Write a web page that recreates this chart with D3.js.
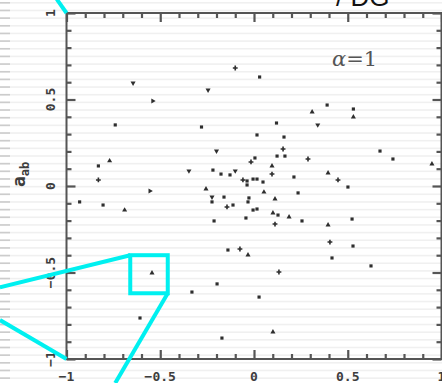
<!DOCTYPE html>
<html>
<head>
<meta charset="utf-8">
<script src="https://cdn.jsdelivr.net/npm/d3@7"></script>
<style>
  html, body { margin: 0; padding: 0; background: #fff; }
  svg { display: block; }
</style>
</head>
<body>
<svg id="chart" width="442" height="383"></svg>
<script>
// Scatter of the sample points, alpha = 1 panel
const xs = [-0.645,-0.74,-0.54,-0.10,0.03,-0.245,-0.28,0.12,0.31,0.39,0.53,0.53,0.34,
  -0.83,-0.77,-0.83,-0.93,-0.805,-0.69,-0.555,
  0.016,0.16,0.155,0.123,0.165,-0.20,0.005,-0.016,0.096,-0.347,-0.219,-0.176,-0.128,-0.10,
  0.096,0.213,-0.059,-0.037,-0.005,0.016,-0.037,0.048,-0.256,0.053,0.235,-0.224,-0.16,
  -0.027,0.112,-0.224,-0.032,-0.144,-0.112,-0.005,0.016,0.101,0.128,0.187,-0.043,-0.213,
  0.112,-0.139,-0.075,-0.032,
  0.672,0.741,0.288,0.949,0.395,0.448,0.501,0.256,0.395,0.523,0.405,0.528,0.416,
  -0.544,-0.331,-0.197,0.027,0.133,0.101,-0.171,-0.608,0.624];
const ys = [0.595,0.353,0.491,0.682,0.63,0.555,0.341,0.364,0.428,0.468,0.445,0.399,0.353,
  0.116,0.145,0.035,-0.092,-0.11,-0.139,-0.029,
  0.295,0.283,0.214,0.173,0.173,0.202,0.162,0.139,0.116,0.087,0.092,0.069,0.064,0.087,
  0.069,0.052,0.035,0.029,0.04,0.04,0.006,0.023,-0.017,-0.035,-0.04,-0.064,-0.064,
  -0.069,-0.075,-0.092,-0.092,-0.121,-0.11,-0.139,-0.133,-0.156,-0.168,-0.179,-0.185,-0.202,
  -0.22,-0.37,-0.364,-0.399,
  0.202,0.156,0.156,0.127,0.075,0.035,-0.006,-0.202,-0.225,-0.191,-0.324,-0.347,-0.416,
  -0.503,-0.613,-0.566,-0.642,-0.497,-0.844,-0.879,-0.763,-0.462];
// marker kind per point: s = block, t = up triangle, v = down triangle, r = right triangle, p = plus
const kinds = ["v","s","r","p","s","v","s","s","t","s","s","t","v",
  "s","t","p","s","s","t","r",
  "s","s","p","s","s","v","s","p","t","v","s","s","s","v",
  "p","s","p","s","s","s","s","s","t","t","s","v","s",
  "s","t","s","s","p","s","s","s","t","s","t","s","s",
  "p","s","p","t",
  "s","s","p","t","t","p","s","s","t","s","p","s","s",
  "t","s","s","s","p","t","s","s","s"];

const majorTicks = [-1, -0.5, 0, 0.5, 1];
const minorTicks = d3.range(-10, 11).map(d => d / 10);
const xTickLabels = ["\u22121", "\u22120.5", "0", "0.5", "1"];
const yTickLabels = ["\u22121", "\u22120.5", "0", "0.5", "1"];

// magnified region and its connector lines (data units)
const zoomBox = { x0: -0.66, x1: -0.46, y0: -0.62, y1: -0.40 };
const connectors = [
  [[-1.355, -0.586], [-0.66, -0.40]],
  [[-1.355, -0.775], [-1, -1]],
  [[-0.46, -0.62], [-0.74, -1.139]],
  [[-1, 1], [-1.052, 1.08]]
];

const svg = d3.select("#chart");
const W = 442, H = 383;

const x = d3.scaleLinear().domain([-1, 1]).range([66.5, 441.5]);
const y = d3.scaleLinear().domain([-1, 1]).range([359, 13]);

// faint horizontal banding
const bands = svg.append("g");
for (let yy = 2; yy < H; yy += 7.66) {
  bands.append("rect").attr("x", 0).attr("y", yy).attr("width", W).attr("height", 1.6)
    .attr("fill", "#f0f0f0");
  bands.append("rect").attr("x", 0).attr("y", yy).attr("width", 10).attr("height", 1.6)
    .attr("fill", "#cccccc");
}

const axisColor = "#555";
const g = svg.append("g");

// frame
g.append("rect")
  .attr("x", x(-1)).attr("y", y(1))
  .attr("width", x(1) - x(-1)).attr("height", y(-1) - y(1))
  .attr("fill", "none").attr("stroke", axisColor).attr("stroke-width", 2);

function styleAxis(sel) {
  sel.select(".domain").remove();
  sel.selectAll(".tick line").attr("stroke", axisColor).attr("stroke-width", 2.2);
}
const minorOnly = minorTicks.filter(v => !majorTicks.some(m => Math.abs(m - v) < 1e-9));

// bottom / top
g.append("g").attr("transform", `translate(0,${y(-1)})`)
  .call(d3.axisBottom(x).tickValues(minorOnly).tickSize(-5).tickFormat("")).call(styleAxis);
g.append("g").attr("transform", `translate(0,${y(-1)})`)
  .call(d3.axisBottom(x).tickValues(majorTicks).tickSize(-9).tickFormat("")).call(styleAxis);
g.append("g").attr("transform", `translate(0,${y(1)})`)
  .call(d3.axisTop(x).tickValues(minorOnly).tickSize(-5).tickFormat("")).call(styleAxis);
g.append("g").attr("transform", `translate(0,${y(1)})`)
  .call(d3.axisTop(x).tickValues(majorTicks).tickSize(-9).tickFormat("")).call(styleAxis);
// left / right
g.append("g").attr("transform", `translate(${x(-1)},0)`)
  .call(d3.axisLeft(y).tickValues(minorOnly).tickSize(-5).tickFormat("")).call(styleAxis);
g.append("g").attr("transform", `translate(${x(-1)},0)`)
  .call(d3.axisLeft(y).tickValues(majorTicks).tickSize(-9).tickFormat("")).call(styleAxis);
g.append("g").attr("transform", `translate(${x(1)},0)`)
  .call(d3.axisRight(y).tickValues(minorOnly).tickSize(-5).tickFormat("")).call(styleAxis);
g.append("g").attr("transform", `translate(${x(1)},0)`)
  .call(d3.axisRight(y).tickValues(majorTicks).tickSize(-9).tickFormat("")).call(styleAxis);

// tick labels
const labelFont = "'DejaVu Sans Mono', monospace";
g.append("g").selectAll("text").data(majorTicks).join("text")
  .attr("x", d => x(d)).attr("y", 381)
  .attr("text-anchor", "middle")
  .attr("font-family", labelFont).attr("font-weight", "bold").attr("font-size", 13)
  .attr("fill", "#3d3d3d")
  .text((d, i) => xTickLabels[i]);

g.append("g").selectAll("text").data(majorTicks).join("text")
  .attr("transform", d => `translate(55,${y(d)}) rotate(-90)`)
  .attr("text-anchor", "middle")
  .attr("font-family", labelFont).attr("font-weight", "bold").attr("font-size", 13)
  .attr("fill", "#3d3d3d")
  .text((d, i) => yTickLabels[i]);

// y axis title
const yt = g.append("text")
  .attr("transform", `translate(25,187) rotate(-90)`)
  .attr("font-family", labelFont).attr("font-weight", "bold").attr("font-size", 18)
  .attr("fill", "#3d3d3d");
yt.append("tspan").text("a");
yt.append("tspan").attr("font-size", 12).attr("dy", 4).text("ab");

// points
const sym = {
  s: d3.symbol().type(d3.symbolSquare).size(10),
  t: d3.symbol().type(d3.symbolTriangle).size(11),
  v: d3.symbol().type(d3.symbolTriangle).size(11),
  r: d3.symbol().type(d3.symbolTriangle).size(11),
  p: d3.symbol().type(d3.symbolCross).size(13)
};
const rot = { s: 0, t: 0, v: 180, r: 90, p: 0 };
const pts = xs.map((v, i) => ({ x: v, y: ys[i], k: kinds[i] || "s" }));
g.append("g").selectAll("path").data(pts).join("path")
  .attr("transform", d => `translate(${x(d.x)},${y(d.y)}) rotate(${rot[d.k]})`)
  .attr("d", d => sym[d.k]())
  .attr("fill", "#2e2e2e");

// alpha annotation
const at = svg.append("text").attr("x", 332).attr("y", 66)
  .attr("font-family", "'DejaVu Serif', serif").attr("font-size", 21).attr("fill", "#555");
at.append("tspan").attr("font-style", "italic").text("\u03b1");
at.append("tspan").text("=1");

// panel heading (cut at the top edge)
svg.append("text").attr("x", 336).attr("y", 6)
  .attr("font-family", "'Liberation Sans', Arial, sans-serif").attr("font-size", 26)
  .attr("fill", "#111").text("/ DG");

// magnified region outline and connectors
const cyan = "#00f0f0";
svg.append("g").selectAll("line").data(connectors).join("line")
  .attr("x1", d => x(d[0][0])).attr("y1", d => y(d[0][1]))
  .attr("x2", d => x(d[1][0])).attr("y2", d => y(d[1][1]))
  .attr("stroke", cyan).attr("stroke-width", 4);
svg.append("rect")
  .attr("x", x(zoomBox.x0)).attr("y", y(zoomBox.y1))
  .attr("width", x(zoomBox.x1) - x(zoomBox.x0))
  .attr("height", y(zoomBox.y0) - y(zoomBox.y1))
  .attr("fill", "none").attr("stroke", cyan).attr("stroke-width", 4);
</script>
</body>
</html>
